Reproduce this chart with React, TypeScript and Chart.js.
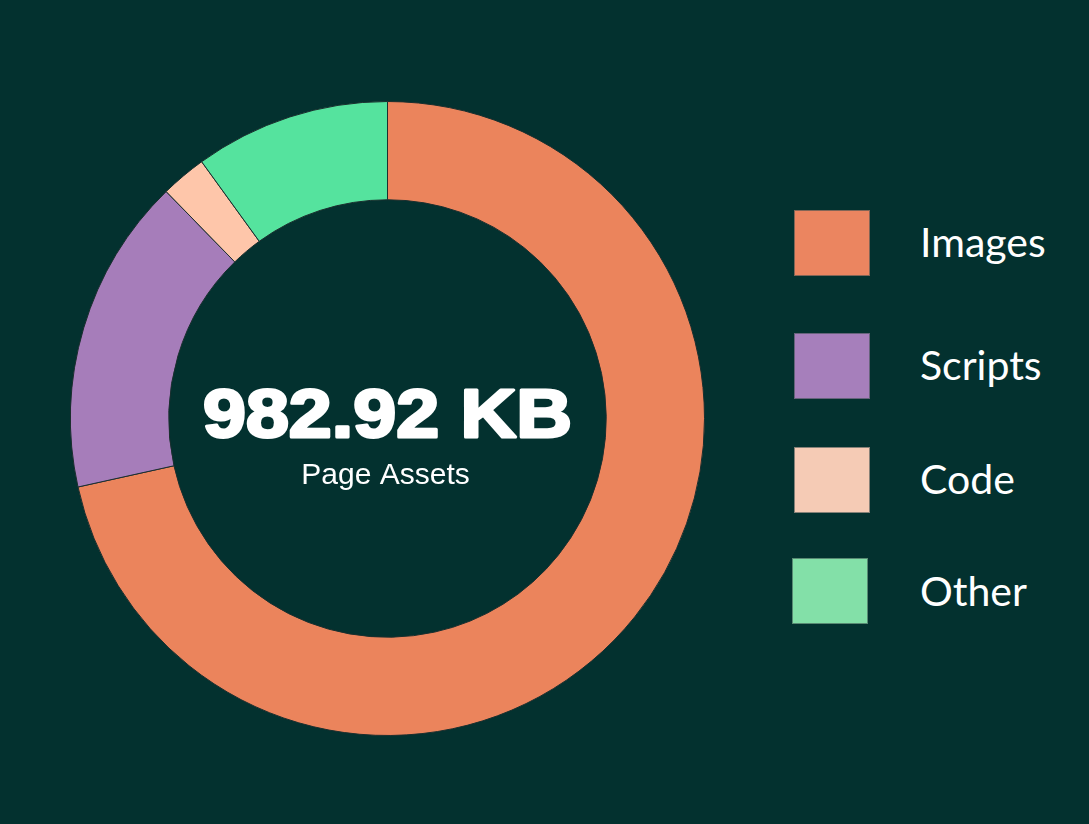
import React, { useEffect, useRef } from "react";
import { Chart, registerables } from "chart.js";

Chart.register(...registerables);

const categories = ["Images", "Scripts", "Code", "Other"];
const sizesKB = [703.1, 158.9, 22.9, 98.0];
const sliceColors = ["#EB845C", "#A67DBA", "#FEC6AA", "#55E39E"];
const legendColors = ["#EB8560", "#A67FBB", "#F5CBB5", "#83E0A8"];
const totalLabel = "982.92 KB";
const subLabel = "Page Assets";

const BG = "#03312F";

const centerText = {
  id: "centerText",
  afterDraw(chart: any) {
    const ctx = chart.ctx as CanvasRenderingContext2D;
    const meta = chart.getDatasetMeta(0);
    const arc = meta.data[0];
    const cx = arc.x;
    const cy = arc.y;
    ctx.save();
    ctx.fillStyle = "#FFFFFF";
    ctx.strokeStyle = "#FFFFFF";
    ctx.textAlign = "center";
    ctx.textBaseline = "alphabetic";
    ctx.font = "bold 69px 'Liberation Sans', Arial, sans-serif";
    const w = ctx.measureText(totalLabel).width;
    const target = 369;
    ctx.translate(cx, 0);
    ctx.scale(target / w, 1);
    ctx.lineWidth = 3;
    ctx.lineJoin = "round";
    ctx.fillText(totalLabel, 0, cy + 18);
    ctx.strokeText(totalLabel, 0, cy + 18);
    ctx.restore();
    ctx.save();
    ctx.fillStyle = "#FFFFFF";
    ctx.textAlign = "center";
    ctx.font = "30px 'Liberation Sans', Arial, sans-serif";
    ctx.fillText(subLabel, cx - 2, cy + 65);
    ctx.restore();
  },
};

export default function App() {
  const ref = useRef<HTMLCanvasElement>(null);
  useEffect(() => {
    if (!ref.current) return;
    const chart = new Chart(ref.current, {
      type: "doughnut",
      data: {
        labels: categories,
        datasets: [
          {
            data: sizesKB,
            backgroundColor: sliceColors,
            borderColor: "#1B2F2F",
            borderWidth: 1,
          },
        ],
      },
      options: {
        responsive: false,
        animation: false,
        devicePixelRatio: 1,
        cutout: "69%",
        layout: { padding: 0 },
        plugins: {
          legend: { display: false },
          tooltip: { enabled: false },
        },
      },
      plugins: [centerText],
    });
    return () => chart.destroy();
  }, []);

  const legendTops = [210, 333, 447, 558];
  const legendLefts = [794, 794, 794, 792];
  const baselineOffsets = [48, 48, 48, 49];

  return (
    <div
      style={{
        position: "fixed",
        left: 0,
        top: 0,
        width: 1089,
        height: 824,
        background: BG,
        overflow: "hidden",
      }}
    >
      <canvas
        ref={ref}
        width={635}
        height={635}
        style={{ position: "absolute", left: 70, top: 101, width: 635, height: 635 }}
      />
      {categories.map((c, i) => (
        <React.Fragment key={c}>
          <div
            style={{
              position: "absolute",
              left: legendLefts[i],
              top: legendTops[i],
              width: 74,
              height: 64,
              background: legendColors[i],
              border: "1px solid rgba(60,80,80,0.6)",
            }}
          />
          <div
            style={{
              position: "absolute",
              left: 920,
              top: legendTops[i] + baselineOffsets[i] - 41,
              height: 50,
              lineHeight: "50px",
              fontFamily: "Lato, 'Open Sans', sans-serif",
              fontSize: 41,
              color: "#FFFFFF",
              whiteSpace: "nowrap",
            }}
          >
            {c}
          </div>
        </React.Fragment>
      ))}
    </div>
  );
}
